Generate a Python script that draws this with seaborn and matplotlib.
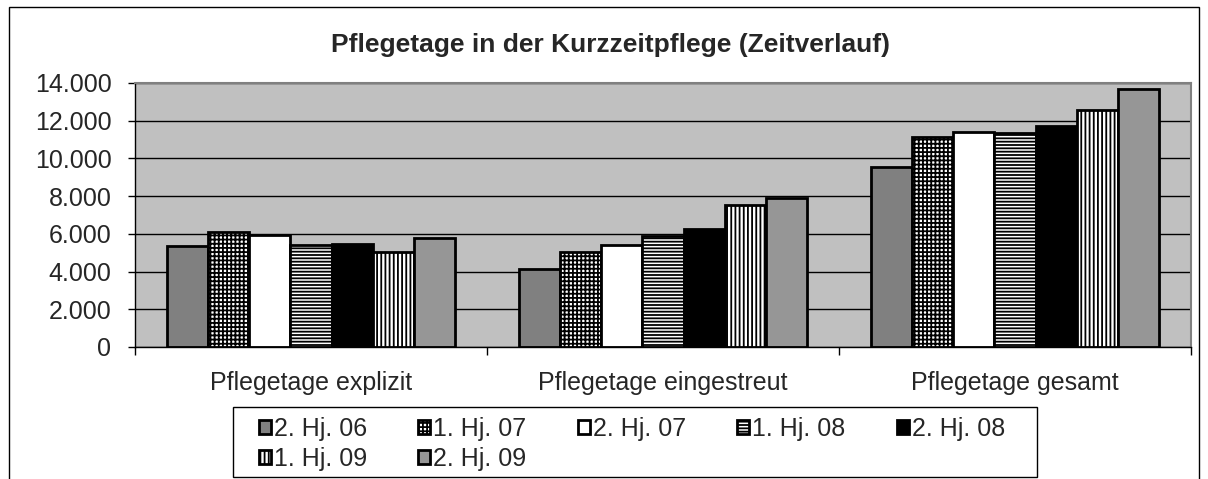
import numpy as np
import pandas as pd
import matplotlib
matplotlib.use("Agg")
import matplotlib.pyplot as plt
import seaborn as sns
from matplotlib.patches import Rectangle
from matplotlib.ticker import FuncFormatter, FixedLocator

# Daten
kategorien = ["Pflegetage explizit", "Pflegetage eingestreut", "Pflegetage gesamt"]
zeitraeume = ["2. Hj. 06", "1. Hj. 07", "2. Hj. 07", "1. Hj. 08", "2. Hj. 08", "1. Hj. 09", "2. Hj. 09"]
explizit = [5356, 6099, 5961, 5430, 5462, 5038, 5780]
eingestreut = [4158, 5038, 5430, 5870, 6279, 7552, 7902]
gesamt = [9530, 11137, 11402, 11349, 11741, 12590, 13682]

farben = ["#808080", "#ffffff", "#ffffff", "#ffffff", "#000000", "#ffffff", "#969696"]
muster = ["", "++++", "", "-----", "", "||||", ""]

rows = []
for kat, werte in zip(kategorien, [explizit, eingestreut, gesamt]):
    for zr, w in zip(zeitraeume, werte):
        rows.append({"Kategorie": kat, "Zeitraum": zr, "Tage": w})
df = pd.DataFrame(rows)

sns.set_style("white")
plt.rcParams["font.family"] = ["Liberation Sans", "DejaVu Sans"]
plt.rcParams["hatch.linewidth"] = 1.3
plt.rcParams["hatch.color"] = "black"
fs = 18

fig = plt.figure(figsize=(12.08, 4.79), dpi=100)
ax = fig.add_axes([135 / 1208, 1 - 347 / 479, 1056 / 1208, 264 / 479])

sns.barplot(data=df, x="Kategorie", y="Tage", hue="Zeitraum", order=kategorien,
            hue_order=zeitraeume, palette=farben, width=0.818, saturation=1,
            edgecolor="black", linewidth=2, ax=ax, legend=False)

for cont, h in zip(ax.containers, muster):
    for p in cont:
        p.set_hatch(h)

ax.set_facecolor("#c0c0c0")
ax.set_ylim(0, 14000)
ax.set_xlim(-0.5, 2.5)
ax.set_yticks(np.arange(0, 14001, 2000))
ax.yaxis.set_major_formatter(FuncFormatter(lambda v, p: f"{int(v):,}".replace(",", ".")))
ax.grid(axis="y", color="black", linewidth=1)
ax.set_axisbelow(True)
ax.set_xlabel("")
ax.set_ylabel("")

ax.xaxis.set_minor_locator(FixedLocator([-0.5, 0.5, 1.5, 2.5]))
ax.tick_params(axis="x", which="major", length=0, pad=17, labelsize=fs)
ax.tick_params(axis="x", which="minor", length=6, width=1, direction="out", color="black", bottom=True)
ax.tick_params(axis="y", length=5, width=1, direction="out", color="black", left=True, labelsize=fs, pad=12)

for s in ["top", "right"]:
    ax.spines[s].set_color("#808080")
    ax.spines[s].set_linewidth(1.5)
for s in ["left", "bottom"]:
    ax.spines[s].set_color("black")
    ax.spines[s].set_linewidth(1)

fig.suptitle("Pflegetage in der Kurzzeitpflege (Zeitverlauf)", x=611 / 1208, y=1 - 45 / 479,
             va="center", fontsize=19, fontweight="bold")

# Legende (zeilenweise Anordnung wie im Original)
reihenfolge = [0, 5, 1, 6, 2, 3, 4]
handles = [ax.containers[i] for i in reihenfolge]
labels = [zeitraeume[i] for i in reihenfolge]
leg = fig.legend(handles, labels, ncol=5, loc="upper left", frameon=False,
                 bbox_to_anchor=(259 / 1208, 1 - 417 / 479),
                 fontsize=fs, handlelength=0.48, handleheight=0.48, handletextpad=0.12,
                 borderpad=0, borderaxespad=0, labelspacing=0.25, columnspacing=2.05)
fig.patches.append(Rectangle((233 / 1208, 1 - 477 / 479), 804 / 1208, 70 / 479,
                             transform=fig.transFigure, fill=False, edgecolor="black", linewidth=1))

# äußerer Rahmen
fig.patches.append(Rectangle((9 / 1208, -0.1), 1190 / 1208, 1.1 - 7 / 479, transform=fig.transFigure,
                             fill=False, edgecolor="black", linewidth=1))

fig.savefig("out.png", dpi=100)
